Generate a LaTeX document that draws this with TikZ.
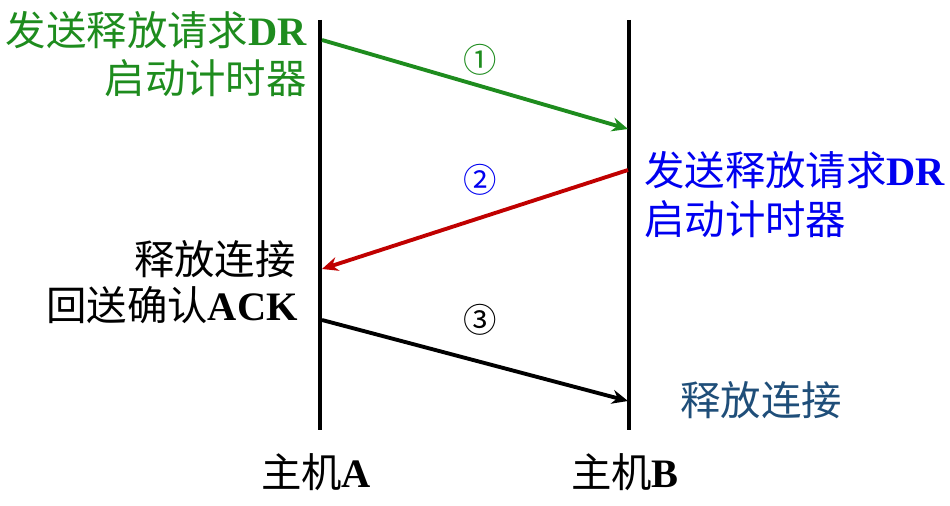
\documentclass[tikz,border=0pt]{standalone}
\usepackage{fontspec}
\setmainfont{Liberation Serif}
\newfontfamily\cjk{Noto Sans CJK SC}
\usetikzlibrary{arrows.meta}
\definecolor{greencontrast}{HTML}{1E8C1E}
\definecolor{redcontrast}{HTML}{C00000}
\definecolor{bluecontrast}{HTML}{0000F0}
\definecolor{navycontrast}{HTML}{1F4E79}
\newcommand{\lat}[1]{{\rmfamily\bfseries #1}}

\begin{document}
\begin{tikzpicture}[x=0.02cm, y=-0.02cm,
            every node/.style={inner sep=0mm,
            font=\fontsize{23}{27}\selectfont\cjk},
            num/.style={font=\fontsize{19}{22}\selectfont\cjk},
            host/.style={line width=2.5pt},
            msg/.style={->, line width=2.2pt},
            >={Stealth[length=3.2mm, width=2.8mm]}]
            \useasboundingbox (0,0) rectangle (950,506);
            % time lines
            \coordinate (Atop) at (320,20);
            \coordinate (Abot) at (320,430);
            \coordinate (Btop) at (629,20);
            \coordinate (Bbot) at (629,430);
            \draw[host] (Atop) -- (Abot);
            \draw[host] (Btop) -- (Bbot);
            \node[anchor=base] (hostA) at (316,487) {主机\lat{A}};
            \node[anchor=base] (hostB) at (625,487) {主机\lat{B}};
            % message points
            \coordinate (s1) at (322,40);
            \coordinate (r1) at (628,129);
            \coordinate (s2) at (628,170);
            \coordinate (r2) at (322,269);
            \coordinate (s3) at (322,320);
            \coordinate (r3) at (628,401);
            \draw[msg, greencontrast] (s1) -- (r1);
            \draw[msg, redcontrast] (s2) -- (r2);
            \draw[msg, black] (s3) -- (r3);
            \node[num, text=greencontrast] (n1) at (480,60) {①};
            \node[num, text=bluecontrast] (n2) at (480,180) {②};
            \node[num, text=black] (n3) at (480,320) {③};
            % host A side
            \node[anchor=base east, text=greencontrast] (drA) at (307,46) {发送释放请求\lat{DR}};
            \node[anchor=base east, text=greencontrast] (timerA) at (307,94) {启动计时器};
            \node[anchor=base east] (relA) at (296,275) {释放连接};
            \node[anchor=base east] (ackA) at (298,321) {回送确认\lat{ACK}};
            % host B side
            \node[anchor=base west, text=bluecontrast] (drB) at (644,186) {发送释放请求\lat{DR}};
            \node[anchor=base west, text=bluecontrast] (timerB) at (644,235) {启动计时器};
            \node[anchor=base west, text=navycontrast] (relB) at (680,416) {释放连接};
        \end{tikzpicture}
\end{document}
